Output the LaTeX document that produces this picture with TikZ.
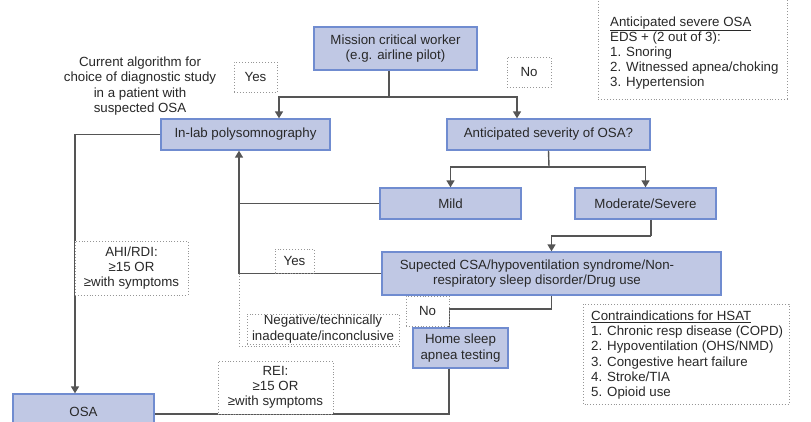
\documentclass[tikz,border=0pt]{standalone}
\usepackage{fontspec}
\setmainfont{Liberation Sans}
\usetikzlibrary{arrows.meta,calc}
\definecolor{boxfill}{RGB}{192,200,228}
\definecolor{boxline}{RGB}{112,140,208}
\definecolor{conn}{RGB}{85,85,85}
\definecolor{txt}{RGB}{40,40,40}
\definecolor{dotc}{RGB}{150,150,150}
\tikzset{
  flowbox/.style={draw=boxline, fill=boxfill, line width=1.3pt, inner sep=0pt, align=center, text=txt},
  tagbox/.style={draw=dotc, dotted, line width=0.9pt, fill=white, inner sep=0pt, align=center, text=txt},
  conline/.style={draw=conn, line width=1.4pt},
  arr/.style={conline, -{Triangle[width=8pt,length=7pt]}},
  plain/.style={inner sep=0pt, text=txt},
}
\begin{document}
\begin{tikzpicture}[x=1pt,y=-1pt,font=\fontsize{13.3}{15.2}\selectfont]
\useasboundingbox[fill=white] (0,0) rectangle (811,421);

% label boxes drawn first
\node[tagbox, minimum width=43, minimum height=30] (yes1) at (255.5,77) {Yes};
\node[tagbox, minimum width=44, minimum height=30] (no1) at (529,72) {No};
\draw[draw=dotc, dotted, line width=0.9pt] (598,-5) rectangle (787,99);
\node[plain, anchor=west, align=left] (sev) at (610,53) {\underline{Anticipated severe OSA}\\EDS + (2 out of 3):\\1. Snoring\\2. Witnessed apnea/choking\\3. Hypertension};
\node[plain, align=center] (alg) at (140,86) {Current algorithm for\\choice of diagnostic study\\in a patient with\\suspected OSA};

% main boxes
\node[flowbox, minimum width=163, minimum height=43] (mission) at (395.5,48.5) {Mission critical worker\\(e.g. airline pilot)};
\node[flowbox, minimum width=169, minimum height=31] (inlab) at (245.5,134.5) {In-lab polysomnography};
\node[flowbox, minimum width=203, minimum height=31] (antic) at (548.5,134.5) {Anticipated severity of OSA?};
\node[flowbox, minimum width=141, minimum height=31] (mild) at (450.5,203.5) {Mild};
\node[flowbox, minimum width=141, minimum height=31] (mod) at (645.5,203.5) {Moderate/Severe};
\node[flowbox, minimum width=339, minimum height=43] (sup) at (551.5,273.5) {};
\node[plain, align=center] (suptext) at (537,273.5) {Supected CSA/hypoventilation syndrome/Non-\\respiratory sleep disorder/Drug use};
\node[flowbox, minimum width=95, minimum height=40] (home) at (460.5,348) {Home sleep\\apnea testing};
\node[flowbox, minimum width=141, minimum height=40] (osa) at (83.5,414) {\raisebox{5pt}{OSA}};

% connectors
\coordinate (msplit) at (389,97);
\draw[conline] ([xshift=-6.5]mission.south) -- (msplit);
\draw[arr] (msplit) -| ([xshift=33.5]inlab.north);
\draw[arr] (msplit) -| ([xshift=-31.5]antic.north);

\coordinate (asplit) at (549,167);
\draw[conline] (antic.south) -- (asplit);
\draw[arr] (asplit) -| (mild.north);
\draw[arr] (asplit) -| (mod.north);

\coordinate (mjoin) at (651,236);
\draw[conline] ([xshift=5.5]mod.south) -- (mjoin);
\draw[arr] (mjoin) -| (sup.north);

\coordinate (yesjoin) at (239,273.5);
\draw[conline] (mild.west) -| (yesjoin);
\draw[arr] (yesjoin) -- ([xshift=-6.5]inlab.south);
\draw[conline] (sup.west) -- (yesjoin);

\draw[arr] (inlab.west) -| ([xshift=-8.5]osa.north);

\coordinate (nojoin) at (449,309);
\draw[conline] (sup.south) |- (nojoin) -- ([xshift=-11.5]home.north);
\draw[conline] ([xshift=-11.5]home.south) |- (osa.east);

\draw[draw=dotc, dotted, line width=0.9pt] (yesjoin) -- (239,346) -- (399,346);

% labels on connectors
\node[tagbox, minimum width=113, minimum height=54] (ahi) at (131.5,268) {AHI/RDI:\\≥15 OR\\≥with symptoms};
\node[tagbox, minimum width=39, minimum height=24] (yes2) at (294.5,261) {Yes};
\node[tagbox, minimum width=43, minimum height=30] (no2) at (427.5,311) {No};
\node[tagbox, minimum width=152, minimum height=30] (neg) at (323,329) {Negative/technically\\inadequate/inconclusive};
\node[tagbox, minimum width=115, minimum height=53] (rei) at (275.5,387.5) {REI:\\≥15 OR\\≥with symptoms};

\draw[draw=dotc, dotted, line width=0.9pt] (583,304) rectangle (789,404);
\node[plain, anchor=west, align=left] (contra) at (591,355) {\underline{Contraindications for HSAT}\\1. Chronic resp disease (COPD)\\2. Hypoventilation (OHS/NMD)\\3. Congestive heart failure\\4. Stroke/TIA\\5. Opioid use};
\end{tikzpicture}
\end{document}
